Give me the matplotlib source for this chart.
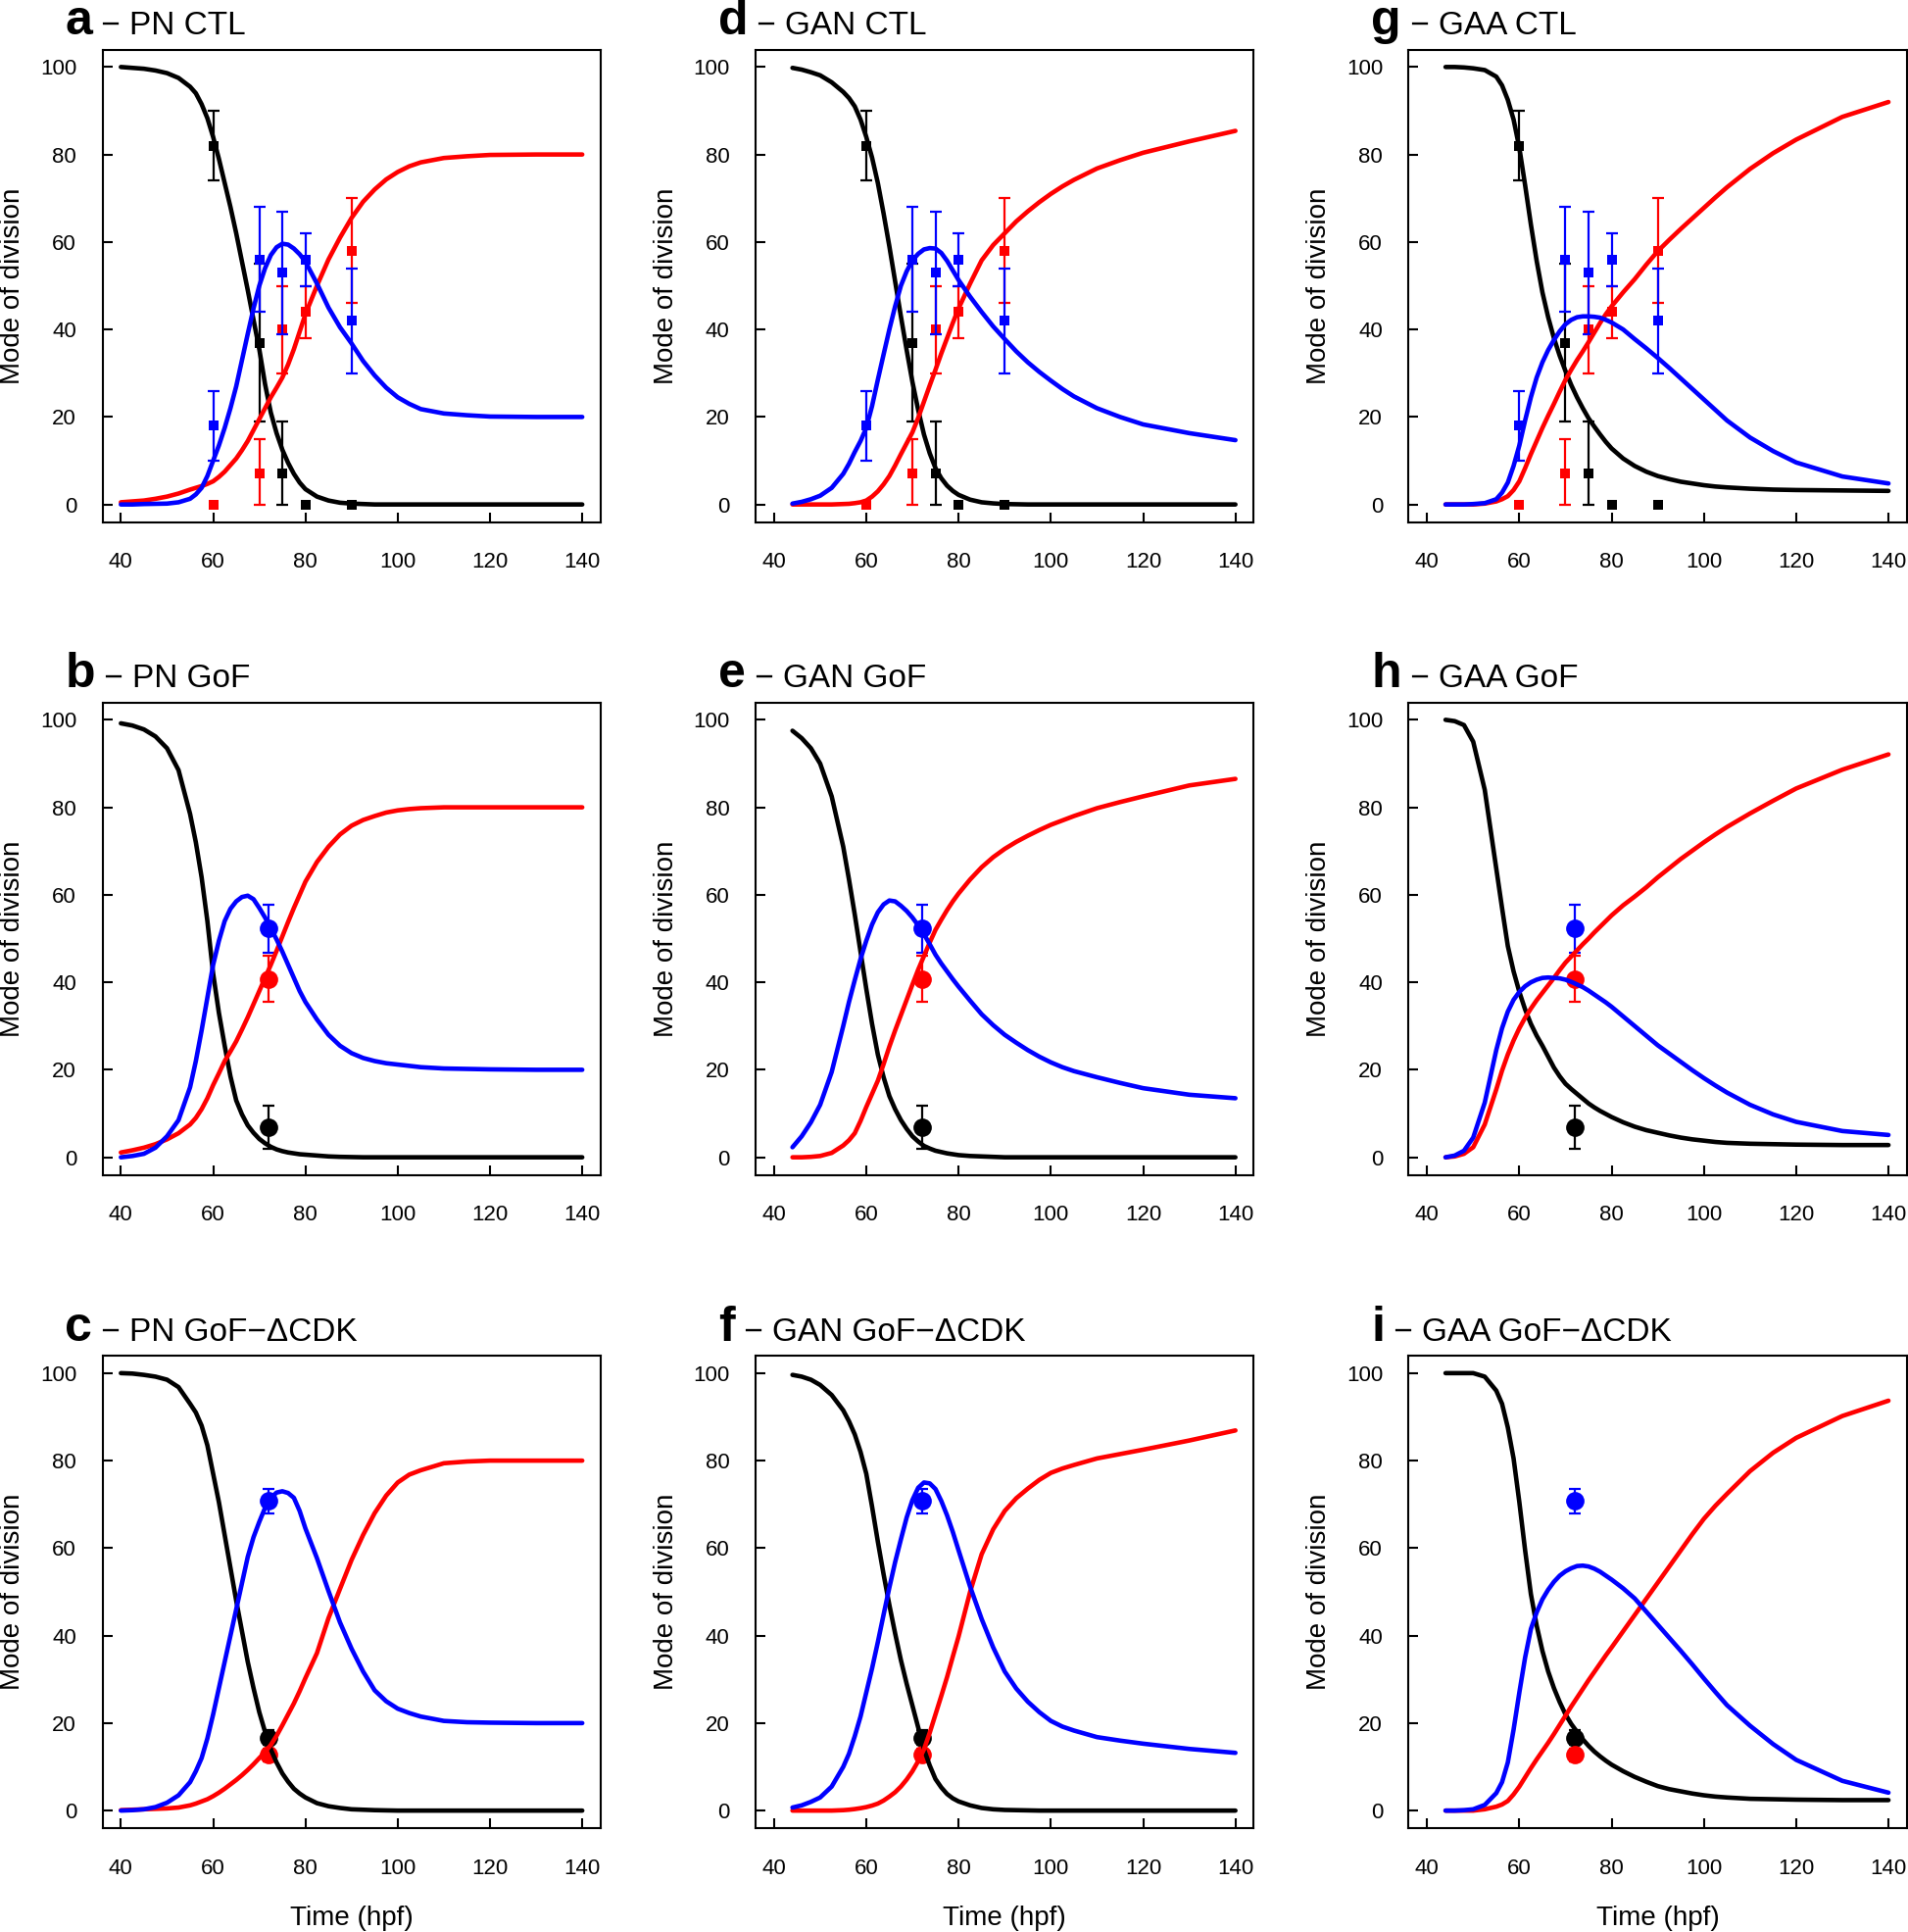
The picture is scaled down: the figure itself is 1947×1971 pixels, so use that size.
#!/usr/bin/env python
# coding: utf-8
# mode of division : model curves + measured points, 3x3 panels

import numpy as np
import matplotlib
matplotlib.use('Agg')
import matplotlib.pyplot as plt

plt.rcParams['font.family'] = ['Liberation Sans', 'DejaVu Sans']
plt.rcParams['xtick.direction'] = 'in'
plt.rcParams['ytick.direction'] = 'in'
plt.rcParams['axes.linewidth'] = 1.5

# ---- model curves ----
t_pn = [40, 42.5, 45, 47.5, 50, 52.5,
        55, 56.25, 57.5, 58.75, 60, 61.25, 62.5, 63.75, 65, 66.25, 67.5, 68.75, 70,
        71.25, 72.5, 73.75, 75, 76.25, 77.5, 78.75, 80,
        82.5, 85, 87.5, 90, 92.5, 95, 97.5, 100, 102.5, 105, 110, 115, 120, 130, 140]
t_ga = [44, 46, 48, 50, 52.5,
        55, 56.25, 57.5, 58.75, 60, 61.25, 62.5, 63.75, 65, 66.25, 67.5, 68.75, 70,
        71.25, 72.5, 73.75, 75, 76.25, 77.5, 78.75, 80,
        82.5, 85, 87.5, 90, 92.5, 95, 97.5, 100, 102.5, 105, 110, 115, 120, 130, 140]

pn_ctl_black = [100, 99.8, 99.6, 99.2, 98.6, 97.5,
                95.5, 94, 91.5, 88.3, 84, 79, 73.5, 68, 62, 55.5, 49, 42.2, 35.5,
                27.5, 21, 16.3, 12.5, 9.5, 7, 5, 3.5,
                1.8, 0.9, 0.4, 0.2, 0.1, 0, 0, 0, 0, 0, 0, 0, 0, 0, 0]
pn_ctl_red = [0.5, 0.7, 0.9, 1.3, 1.8, 2.5,
              3.4, 3.8, 4.2, 4.7, 5.3, 6.3, 7.5, 9, 10.5, 12.4, 14.5, 17, 19.5,
              22, 24.5, 26.7, 29, 32, 35.5, 39.5, 43.5,
              50, 56, 61, 65.5, 69.2, 72, 74.3, 76, 77.3, 78.2, 79.2, 79.6, 79.9, 80, 80]
pn_ctl_blue = [0, 0, 0.1, 0.15, 0.2, 0.5,
               1.3, 2.3, 3.8, 6.5, 10, 13.5, 17.5, 22, 27, 33, 39, 44.8, 50,
               54, 57, 58.8, 59.6, 59.4, 58.5, 57.2, 55.5,
               50.5, 45, 40.5, 36.8, 32.8, 29.5, 26.7, 24.5, 23, 21.8, 20.8, 20.4, 20.1, 20, 20]

pn_gof_black = [99.2, 98.7, 97.8, 96.2, 93.5, 88.5,
                78.5, 72, 64, 54, 42, 33, 25.5, 18.5, 13, 9.8, 7.3, 5.6, 4.2,
                3.2, 2.4, 1.8, 1.4, 1.1, 0.9, 0.7, 0.6,
                0.4, 0.2, 0.1, 0.05, 0, 0, 0, 0, 0, 0, 0, 0, 0, 0, 0]
pn_gof_red = [1.1, 1.6, 2.2, 3, 4.1, 5.5,
              7.5, 9, 11, 13.5, 16.5, 19.2, 22, 24.2, 26.5, 29.2, 32, 35, 38,
              41, 44, 47.2, 50.5, 53.8, 57, 60, 63,
              67.5, 71, 73.8, 75.8, 77.1, 78, 78.8, 79.3, 79.6, 79.8, 80, 80, 80, 80, 80]
pn_gof_blue = [0, 0.3, 0.8, 2.2, 4.8, 8.5,
               16, 22, 29, 36.5, 44, 49.5, 54, 56.8, 58.5, 59.5, 59.8, 59, 57,
               54.8, 52.3, 49.8, 47, 44, 41, 38, 35.5,
               31.5, 28, 25.5, 23.8, 22.7, 22, 21.5, 21.2, 20.9, 20.6, 20.3, 20.2, 20.1, 20, 20]

pn_cdk_black = [100, 99.9, 99.6, 99.2, 98.5, 96.8,
                93, 91, 88, 83.5, 77, 70.5, 63, 55.5, 48, 41, 34, 28, 22.5,
                18, 14, 11, 8.5, 6.6, 5, 3.9, 3,
                1.7, 1, 0.6, 0.3, 0.2, 0.1, 0.05, 0, 0, 0, 0, 0, 0, 0, 0]
pn_cdk_red = [0.1, 0.2, 0.3, 0.4, 0.5, 0.7,
              1.2, 1.6, 2.1, 2.6, 3.3, 4.1, 5, 6, 7, 8.1, 9.3, 10.6, 12,
              13.4, 15, 17.1, 19.5, 22, 24.5, 27.3, 30.3,
              36, 44, 50.7, 57.3, 63, 68, 72, 75, 76.8, 77.8, 79.4, 79.8, 80, 80, 80]
pn_cdk_blue = [0, 0.1, 0.3, 0.8, 1.8, 3.5,
               6.5, 9, 12, 16.5, 22, 28, 34, 40, 46, 52, 58, 62.5, 66,
               69.2, 71.5, 72.7, 73, 72.6, 71.5, 68.5, 64.5,
               57.7, 50.2, 43, 37, 31.8, 27.5, 25, 23.3, 22.3, 21.5, 20.5, 20.2, 20.1, 20, 20]

gan_ctl_black = [99.8, 99.4, 98.8, 98.1, 96.5,
                 94.3, 92.9, 91, 88, 84, 79.3, 73.5, 66.5, 59, 51, 43, 35.3, 28,
                 21.6, 16, 11.7, 8.3, 6, 4.3, 3.1, 2.2,
                 1.1, 0.5, 0.25, 0.1, 0.05, 0, 0, 0, 0, 0, 0, 0, 0, 0, 0]
gan_ctl_red = [0, 0, 0, 0, 0,
               0.1, 0.15, 0.3, 0.5, 0.9, 1.8, 3, 4.6, 6.5, 8.9, 11.5, 14, 16.5,
               19.8, 23.5, 27.2, 30.8, 34.5, 38, 41.5, 44.8,
               50.5, 55.8, 59.3, 62, 64.7, 67, 69.1, 71, 72.7, 74.2, 76.8, 78.7, 80.4, 83, 85.4]
gan_ctl_blue = [0.2, 0.6, 1.2, 2, 3.8,
                7, 9.3, 12, 14.5, 17.5, 22.5, 28.5, 34.3, 40, 45.3, 50, 53.3, 55.8,
                57.3, 58.3, 58.6, 58.5, 57.5, 55.7, 53.5, 51.3,
                47.5, 44, 40.7, 37.8, 35, 32.5, 30.3, 28.3, 26.4, 24.7, 22, 20, 18.3, 16.3, 14.7]

gan_gof_black = [97.5, 95.8, 93.5, 90, 82.5,
                 71, 63.5, 55.5, 47, 38.5, 30.5, 23.5, 18.3, 14, 11, 8.5, 6.5, 4.8,
                 3.6, 2.6, 2, 1.5, 1.2, 0.9, 0.7, 0.5,
                 0.3, 0.2, 0.1, 0, 0, 0, 0, 0, 0, 0, 0, 0, 0, 0, 0]
gan_gof_red = [0, 0, 0.1, 0.3, 1,
               2.7, 3.9, 5.5, 8.3, 11.5, 14.5, 17.5, 21.3, 25.3, 29, 32.5, 36, 39.5,
               42.9, 46, 49.1, 52, 54.3, 56.5, 58.5, 60.3,
               63.5, 66.3, 68.6, 70.5, 72.1, 73.5, 74.8, 76, 77, 78, 79.8, 81.2, 82.5, 85, 86.5]
gan_gof_blue = [2.3, 4.8, 8, 12, 19.5,
                30, 35.5, 40.5, 45.3, 49.5, 53.2, 56, 57.8, 58.7, 58.5, 57.5, 56.3, 54.8,
                53, 51, 48.7, 46.3, 44.3, 42.5, 40.7, 39,
                35.8, 32.7, 30.2, 28, 26.2, 24.5, 23, 21.7, 20.6, 19.7, 18.3, 17, 15.8, 14.3, 13.5]

gan_cdk_black = [99.6, 99.2, 98.5, 97.3, 95,
                 91.5, 89, 86, 82, 77, 69.5, 61.5, 54, 47, 40.5, 34.4, 29, 24,
                 19, 14, 10.3, 7.2, 5.3, 3.8, 2.8, 2.1,
                 1.2, 0.6, 0.3, 0.15, 0.1, 0.05, 0, 0, 0, 0, 0, 0, 0, 0, 0]
gan_cdk_red = [0, 0, 0, 0, 0,
               0.1, 0.2, 0.35, 0.55, 0.8, 1.15, 1.6, 2.3, 3.2, 4.2, 5.5, 7.1, 9,
               11.3, 14, 17.8, 22, 26.2, 30.5, 35.2, 39.8,
               50, 58.6, 64.3, 68.5, 71.4, 73.6, 75.6, 77.2, 78.2, 79, 80.5, 81.5, 82.5, 84.6, 86.9]
gan_cdk_blue = [0.7, 1.2, 2, 3, 5.5,
                10, 13, 17, 21.5, 27, 32.5, 38.5, 44.8, 51, 56.8, 62, 67, 71,
                73.8, 75, 74.8, 73.5, 70.8, 67.5, 63.7, 59.5,
                51.2, 43.8, 37.3, 31.8, 27.9, 24.9, 22.5, 20.5, 19.2, 18.3, 16.8, 16, 15.3, 14.1, 13.2]

gaa_ctl_black = [100, 100, 99.9, 99.7, 99.3,
                 97.8, 95.8, 92.5, 88, 81.5, 73, 64, 55.7, 48.5, 42.8, 38, 34, 30.5,
                 27.3, 24.5, 22, 19.7, 17.8, 16, 14.3, 12.8,
                 10.5, 8.8, 7.5, 6.5, 5.8, 5.2, 4.8, 4.4, 4.1, 3.9, 3.6, 3.4, 3.3, 3.2, 3.1]
gaa_ctl_red = [0, 0, 0, 0, 0.2,
               0.7, 1.2, 1.9, 3.3, 5.3, 8.3, 11.5, 14.5, 17.5, 20.3, 23, 25.8, 28.5,
               30.8, 33, 35, 37.1, 39.3, 41.5, 43.5, 45.3,
               48.5, 51.5, 54.8, 57.9, 60.5, 63, 65.4, 67.8, 70.2, 72.5, 76.7, 80.3, 83.4, 88.6, 92]
gaa_ctl_blue = [0, 0, 0, 0.1, 0.3,
                1.2, 2.7, 5, 8.8, 13.5, 19.2, 24.5, 29, 32.5, 35.3, 37.6, 39.6, 41.2,
                42.2, 42.8, 43, 43, 42.9, 42.7, 42.2, 41.6,
                40, 37.8, 35.7, 33.5, 31.2, 28.8, 26.4, 24, 21.6, 19.2, 15.3, 12.2, 9.6, 6.4, 4.8]

gaa_gof_black = [100, 99.7, 98.8, 95, 84,
                 66, 57, 48.3, 42.5, 37.8, 33.8, 30.5, 27.8, 25.5, 23, 20.5, 18.5, 16.8,
                 15.6, 14.5, 13.4, 12.3, 11.4, 10.6, 9.9, 9.2,
                 8, 7, 6.2, 5.6, 5, 4.5, 4.1, 3.8, 3.5, 3.3, 3.1, 3, 2.9, 2.8, 2.8]
gaa_gof_red = [0, 0.2, 0.8, 2.3, 7.5,
               15.5, 19.8, 23.5, 26.7, 29.5, 31.9, 34, 35.9, 37.6, 39.3, 41, 42.8, 44.5,
               45.9, 47.3, 48.7, 50, 51.4, 52.7, 54, 55.3,
               57.6, 59.6, 61.7, 64, 66.1, 68.2, 70.1, 72, 73.8, 75.5, 78.6, 81.5, 84.3, 88.6, 92.1]
gaa_gof_blue = [0, 0.4, 1.5, 4.5, 12.5,
                24.5, 29.5, 33.3, 36, 37.8, 39.1, 40, 40.6, 41, 41.1, 41, 40.9, 40.6,
                40.1, 39.5, 38.9, 38.1, 37.2, 36.3, 35.4, 34.4,
                32.2, 30, 27.8, 25.6, 23.7, 21.8, 19.9, 18.1, 16.4, 14.8, 12, 9.8, 8.1, 6, 5.1]

gaa_cdk_black = [100, 100, 100, 100, 99.2,
                 96, 93, 87.6, 80.5, 70.5, 59.5, 49.5, 42.3, 36.5, 31.8, 28, 24.8, 22,
                 19.8, 18, 16.3, 14.8, 13.5, 12.4, 11.4, 10.5,
                 9, 7.7, 6.6, 5.6, 4.9, 4.4, 3.9, 3.5, 3.2, 3, 2.7, 2.6, 2.5, 2.4, 2.4]
gaa_cdk_red = [0, 0, 0, 0, 0.3,
               0.9, 1.4, 2.2, 3.7, 5.5, 7.6, 9.7, 11.7, 13.6, 15.5, 17.5, 19.6, 21.7,
               23.8, 25.8, 27.8, 29.8, 31.7, 33.6, 35.5, 37.3,
               41, 44.7, 48.4, 52.1, 55.8, 59.5, 63.2, 66.7, 69.7, 72.4, 77.6, 81.8, 85.2, 90.2, 93.7]
gaa_cdk_blue = [0, 0, 0.1, 0.3, 1.3,
                4, 6.5, 11, 18.5, 27, 35, 41.5, 45.3, 48.3, 50.5, 52.3, 53.7, 54.7,
                55.4, 55.9, 56, 55.8, 55.3, 54.6, 53.7, 52.8,
                50.8, 48.5, 45.5, 42.5, 39.5, 36.5, 33.4, 30.2, 27.1, 24.1, 19.4, 15.2, 11.6, 6.8, 4.1]

# ---- measured points (mean, lower / upper end of the bar) ----
t_ctl = [60, 70, 75, 80, 90]
ctl_black = [82, 37, 7, 0, 0]
ctl_black_lo = [74, 19, 0, 0, 0]
ctl_black_hi = [90, 55, 19, 0, 0]
ctl_red = [0, 7, 40, 44, 58]
ctl_red_lo = [0, 0, 30, 38, 46]
ctl_red_hi = [0, 15, 50, 50, 70]
ctl_blue = [18, 56, 53, 56, 42]
ctl_blue_lo = [10, 44, 39, 50, 30]
ctl_blue_hi = [26, 68, 67, 62, 54]

t_72 = [72]
gof_black, gof_black_lo, gof_black_hi = [6.8], [2], [11.8]
gof_red, gof_red_lo, gof_red_hi = [40.7], [35.5], [46.1]
gof_blue, gof_blue_lo, gof_blue_hi = [52.4], [46.8], [57.8]

cdk_black, cdk_black_lo, cdk_black_hi = [16.7], [15], [18.5]
cdk_red, cdk_red_lo, cdk_red_hi = [12.7], [11.2], [14.2]
cdk_blue, cdk_blue_lo, cdk_blue_hi = [70.8], [68], [73.5]

x_ticks = [40, 60, 80, 100, 120, 140]
y_ticks = [0, 20, 40, 60, 80, 100]

ctl_pts = [(ctl_black, ctl_black_lo, ctl_black_hi, 'black'),
           (ctl_red, ctl_red_lo, ctl_red_hi, 'red'),
           (ctl_blue, ctl_blue_lo, ctl_blue_hi, 'blue')]
gof_pts = [(gof_black, gof_black_lo, gof_black_hi, 'black'),
           (gof_blue, gof_blue_lo, gof_blue_hi, 'blue'),
           (gof_red, gof_red_lo, gof_red_hi, 'red')]
cdk_pts = [(cdk_black, cdk_black_lo, cdk_black_hi, 'black'),
           (cdk_blue, cdk_blue_lo, cdk_blue_hi, 'blue'),
           (cdk_red, cdk_red_lo, cdk_red_hi, 'red')]

# (letter, name, t, black, red, blue, points, row, col)
panels = [
    ('a', 'PN CTL', t_pn, pn_ctl_black, pn_ctl_red, pn_ctl_blue, 'ctl', 0, 0),
    ('b', 'PN GoF', t_pn, pn_gof_black, pn_gof_red, pn_gof_blue, 'gof', 1, 0),
    ('c', 'PN GoF\u2212\u0394CDK', t_pn, pn_cdk_black, pn_cdk_red, pn_cdk_blue, 'cdk', 2, 0),
    ('d', 'GAN CTL', t_ga, gan_ctl_black, gan_ctl_red, gan_ctl_blue, 'ctl', 0, 1),
    ('e', 'GAN GoF', t_ga, gan_gof_black, gan_gof_red, gan_gof_blue, 'gof', 1, 1),
    ('f', 'GAN GoF\u2212\u0394CDK', t_ga, gan_cdk_black, gan_cdk_red, gan_cdk_blue, 'cdk', 2, 1),
    ('g', 'GAA CTL', t_ga, gaa_ctl_black, gaa_ctl_red, gaa_ctl_blue, 'ctl', 0, 2),
    ('h', 'GAA GoF', t_ga, gaa_gof_black, gaa_gof_red, gaa_gof_blue, 'gof', 1, 2),
    ('i', 'GAA GoF\u2212\u0394CDK', t_ga, gaa_cdk_black, gaa_cdk_red, gaa_cdk_blue, 'cdk', 2, 2),
]

W, H = 1947, 1971
fig = plt.figure(figsize=(W / 100, H / 100), dpi=100)

col_left = [104.5, 771, 1437.4]   # px
row_top = [50.5, 716.5, 1383]     # px
AX_W, AX_H = 508.5, 482

for letter, name, t, black, red, blue, kind, r, c in panels:
    ax = fig.add_axes([col_left[c] / W, 1 - (row_top[r] + AX_H) / H, AX_W / W, AX_H / H])

    # measured points
    if kind == 'ctl':
        pts, tx, marker, ms = ctl_pts, t_ctl, 's', 7.2
    elif kind == 'gof':
        pts, tx, marker, ms = gof_pts, t_72, 'o', 13.5
    else:
        pts, tx, marker, ms = cdk_pts, t_72, 'o', 13.5
    for m, lo, hi, col in pts:
        m, lo, hi, x = np.array(m), np.array(lo), np.array(hi), np.array(tx)
        bar = hi > lo
        ax.errorbar(x[bar], m[bar], yerr=[m[bar] - lo[bar], hi[bar] - m[bar]], fmt='none',
                    ecolor=col, elinewidth=1.6, capsize=4.3, capthick=1.6)
        ax.plot(x, m, marker, color=col, ms=ms, mew=0)

    # model curves
    for y, col in [(black, 'black'), (red, 'red'), (blue, 'blue')]:
        ax.plot(t, y, color=col, lw=3.3, solid_capstyle='round', solid_joinstyle='round')

    ax.set_xlim(36, 144)
    ax.set_ylim(-4, 104)
    ax.set_xticks(x_ticks)
    ax.set_yticks(y_ticks)
    ax.tick_params(axis='x', length=7.2, width=1.5, pad=22, labelsize=16)
    ax.tick_params(axis='y', length=7.2, width=1.5, pad=19, labelsize=16)

    ax.text(-0.179, 0.5, 'Mode of division', rotation=90, ha='center', va='center',
            fontsize=20, transform=ax.transAxes)
    if r == 2:
        ax.text(0.5, -0.19, 'Time (hpf)', ha='center', va='center', fontsize=20,
                transform=ax.transAxes)

    lt = ax.text(-0.0748, 1.032, letter, fontsize=36, fontweight='bold',
                 ha='left', va='baseline', transform=ax.transAxes)
    ax.annotate(' \u2212 ' + name, xy=(1, 1.032), xycoords=(lt, ax.transAxes),
                fontsize=24, ha='left', va='baseline')

fig.savefig('out.png', dpi=100)
